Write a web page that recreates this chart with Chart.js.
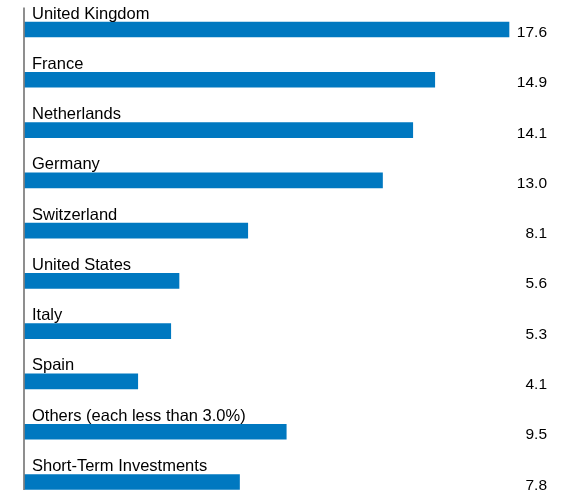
<!DOCTYPE html>
<html>
<head>
<meta charset="utf-8">
<script src="https://cdn.jsdelivr.net/npm/chart.js@4.4.1/dist/chart.umd.min.js"></script>
<style>
  html, body { margin: 0; padding: 0; background: #fff; }
  #wrap { width: 573px; height: 496px; position: relative; }
</style>
</head>
<body>
<div id="wrap"><canvas id="grafica"></canvas></div>
<script>
// datos
const paises = ['United Kingdom', 'France', 'Netherlands', 'Germany', 'Switzerland',
  'United States', 'Italy', 'Spain', 'Others (each less than 3.0%)', 'Short-Term Investments'];
const porcentajes = [17.6, 14.9, 14.1, 13.0, 8.1, 5.6, 5.3, 4.1, 9.5, 7.8];
const etiquetasValor = ['17.6', '14.9', '14.1', '13.0', '8.1', '5.6', '5.3', '4.1', '9.5', '7.8'];

const fuente = '"Liberation Sans", Arial, sans-serif';

// dibuja nombres arriba de la barra, valores a la derecha y la linea del eje
const textos = {
  id: 'textos',
  afterDatasetsDraw(chart) {
    const ctx = chart.ctx;
    const area = chart.chartArea;
    const meta = chart.getDatasetMeta(0);
    ctx.save();
    ctx.fillStyle = '#000';
    meta.data.forEach((bar, i) => {
      ctx.font = '16.5px ' + fuente;
      ctx.textAlign = 'left';
      ctx.textBaseline = 'alphabetic';
      ctx.fillText(paises[i], area.left + 7, bar.y - 11);
      ctx.font = '15.5px ' + fuente;
      ctx.textAlign = 'right';
      ctx.fillText(etiquetasValor[i], 547, bar.y + 7.5);
    });
    const primero = meta.data[0].y;
    const ultimo = meta.data[meta.data.length - 1].y;
    ctx.strokeStyle = '#444';
    ctx.lineWidth = 1.2;
    ctx.beginPath();
    ctx.moveTo(area.left - 1, primero - 22);
    ctx.lineTo(area.left - 1, ultimo + 8);
    ctx.stroke();
    ctx.restore();
  }
};

new Chart(document.getElementById('grafica'), {
  type: 'bar',
  data: {
    labels: paises,
    datasets: [{
      data: porcentajes,
      backgroundColor: '#0078C0',
      barThickness: 15,
      clip: false
    }]
  },
  options: {
    indexAxis: 'y',
    responsive: true,
    maintainAspectRatio: false,
    animation: false,
    layout: { padding: { left: 25, right: 53, top: 29.5, bottom: 14 } },
    scales: {
      x: { display: false, min: 0, max: 18 },
      y: { display: false, offset: false }
    },
    plugins: {
      legend: { display: false },
      tooltip: { enabled: false }
    }
  },
  plugins: [textos]
});
</script>
</body>
</html>
